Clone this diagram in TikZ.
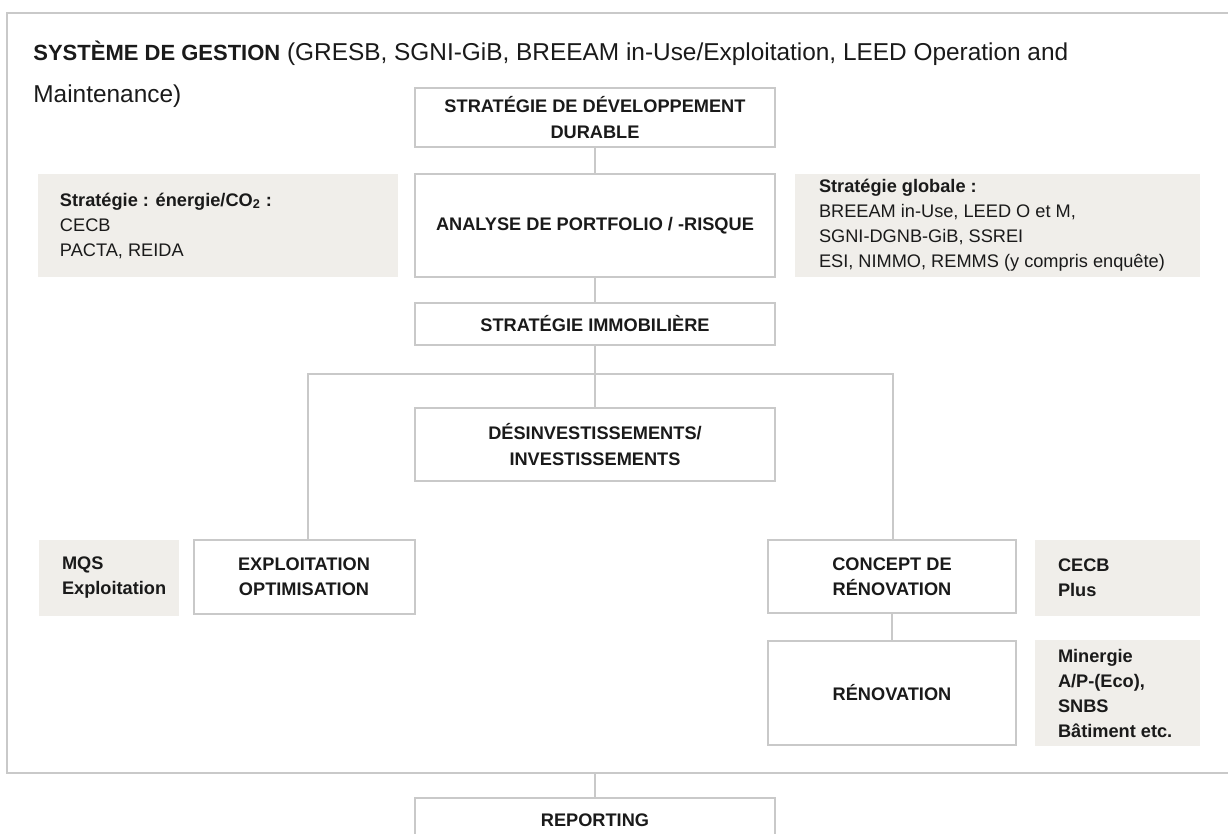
\documentclass[tikz,border=0pt]{standalone}
\usepackage{fontspec}
\setmainfont{Liberation Sans}
\definecolor{linegray}{HTML}{C9C9C9}
\definecolor{beige}{HTML}{F0EEEA}
\definecolor{ink}{HTML}{1A1A1A}
\begin{document}
\begin{tikzpicture}[x=0.5pt,y=-0.5pt,
  conn/.style={draw=linegray,line width=1pt},
  box/.style={draw=linegray,line width=1pt,fill=white,align=center,text=ink,inner sep=0pt,
    font=\bfseries\fontsize{9.1}{12.7}\selectfont},
  note/.style={fill=beige,inner sep=0pt},
  notetext/.style={anchor=west,align=left,text=ink,inner sep=0pt,
    font=\fontsize{9.1}{12.5}\selectfont},
  titletext/.style={anchor=base west,inner sep=0pt,text=ink}]
\useasboundingbox (0,0) rectangle (1228,834);
\fill[white] (0,0) rectangle (1228,834);
% frame of the management system
\coordinate (ftr) at (1240,13);
\coordinate (ftl) at (7,13);
\coordinate (fbl) at (7,773);
\coordinate (fbr) at (1240,773);
\draw[conn] (ftr) -- (ftl) -- (fbl) -- (fbr);
% title
\node[titletext] (t1) at (33,61) {{\fontsize{11}{14}\selectfont\textbf{SYSTÈME DE GESTION}}\fontsize{12.2}{14}\selectfont{} (GRESB, SGNI-GiB, BREEAM in-Use/Exploitation, LEED Operation and};
\node[titletext] (t2) at (33,103) {\fontsize{12.2}{14}\selectfont Maintenance)};
% central boxes
\node[box,minimum width=180pt,minimum height=29.5pt] (b1) at (595,117.5) {STRATÉGIE DE DÉVELOPPEMENT\\DURABLE};
\node[box,minimum width=180pt,minimum height=51.5pt] (b2) at (595,225.5) {ANALYSE DE PORTFOLIO / -RISQUE};
\node[box,minimum width=180pt,minimum height=21pt] (b3) at (595,324) {STRATÉGIE IMMOBILIÈRE};
\node[box,minimum width=180pt,minimum height=36.5pt] (b4) at (595,444.5) {DÉSINVESTISSEMENTS/\\INVESTISSEMENTS};
\node[box,minimum width=110.5pt,minimum height=37pt] (b5) at (304,577) {EXPLOITATION\\OPTIMISATION};
\node[box,minimum width=124pt,minimum height=36.5pt] (b6) at (892,576.5) {CONCEPT DE\\RÉNOVATION};
\node[box,minimum width=124pt,minimum height=52pt] (b7) at (892,693) {RÉNOVATION};
\node[box,minimum width=180pt,minimum height=50pt] (b8) at (595,848) {};
\node[anchor=base,inner sep=0pt,text=ink,font=\bfseries\fontsize{9.1}{12.7}\selectfont] (b8t) at (595,826) {REPORTING};
% beige notes
\node[note,minimum width=180pt,minimum height=51.5pt] (n1) at (218,225.5) {};
\node[notetext] (n1t) at ([xshift=11pt]n1.west) {\textbf{Stratégie : énergie/CO\textsubscript{2} :}\\CECB\\PACTA, REIDA};
\node[note,minimum width=202.5pt,minimum height=51.5pt] (n2) at (997.5,225.5) {};
\node[notetext] (n2t) at ([xshift=12pt]n2.west) {\textbf{Stratégie globale :}\\BREEAM in-Use, LEED O et M,\\SGNI-DGNB-GiB, SSREI\\ESI, NIMMO, REMMS (y compris enquête)};
\node[note,minimum width=70pt,minimum height=38pt] (n3) at (109,578) {};
\node[notetext,font=\bfseries\fontsize{9.1}{12.5}\selectfont] (n3t) at ([xshift=11.5pt]n3.west) {MQS\\Exploitation};
\node[note,minimum width=82.5pt,minimum height=38pt] (n4) at (1117.5,578) {};
\node[notetext,font=\bfseries\fontsize{9.1}{12.5}\selectfont] (n4t) at ([xshift=11.5pt]n4.west) {CECB\\Plus};
\node[note,minimum width=82.5pt,minimum height=53pt] (n5) at (1117.5,693) {};
\node[notetext,font=\bfseries\fontsize{9.1}{12.5}\selectfont] (n5t) at ([xshift=11.5pt]n5.west) {Minergie\\A/P-(Eco),\\SNBS\\Bâtiment etc.};
% connectors
\coordinate (busL) at (308,374);
\coordinate (busR) at (893,374);
\coordinate (busC) at (595,374);
\draw[conn] (b1) -- (b2);
\draw[conn] (b2) -- (b3);
\draw[conn] (b3.south) -- (busC);
\draw[conn] (busC) -- (b4.north);
\draw[conn] (b5.north -| busL) -- (busL) -- (busR) -- (b6.north -| busR);
\draw[conn] (b6) -- (b7);
\draw[conn] (b8.north) -- (fbl -| b8.north);
\end{tikzpicture}
\end{document}
